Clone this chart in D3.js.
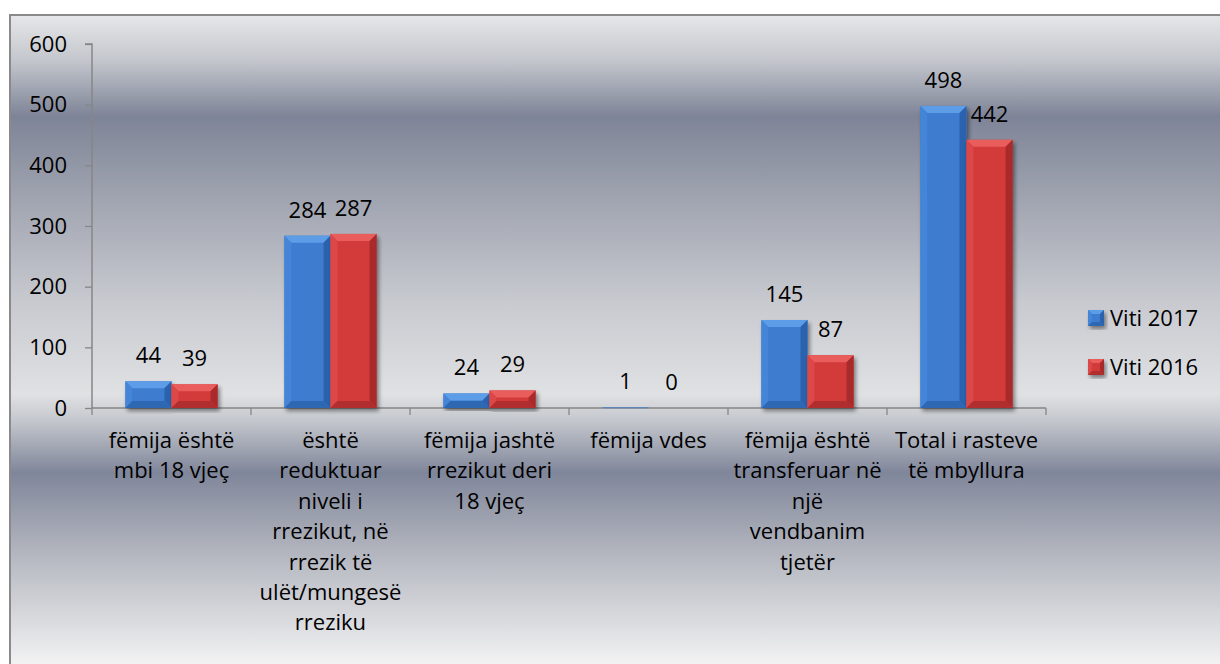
<!DOCTYPE html>
<html>
<head>
<meta charset="utf-8">
<script src="https://cdn.jsdelivr.net/npm/d3@7"></script>
<style>
  html, body { margin: 0; padding: 0; background: #ffffff; }
  svg { display: block; }
  text { font-family: "Open Sans", "Noto Sans", sans-serif; fill: #000; }
</style>
</head>
<body>
<svg id="chart" width="1220" height="664"></svg>
<script>
// ---- data ----
const categories = [
  "fëmija është\nmbi 18 vjeç",
  "është\nreduktuar\nniveli i\nrrezikut, në\nrrezik të\nulët/mungesë\nrreziku",
  "fëmija jashtë\nrrezikut deri\n18 vjeç",
  "fëmija vdes",
  "fëmija është\ntransferuar në\nnjë\nvendbanim\ntjetër",
  "Total i rasteve\ntë mbyllura"
];
const seriesNames = ["Viti 2017", "Viti 2016"];
const values2017 = [44, 284, 24, 1, 145, 498];
const values2016 = [39, 287, 29, 0, 87, 442];
const yTicks = [0, 100, 200, 300, 400, 500, 600];

// ---- styles ----
const seriesColors = [
  { body: "#3c7bcf", top: "#5d9de8", left: "#4585d8", right: "#2c62ae", bottom: "#2f67b3" },
  { body: "#d33a3a", top: "#ea5d5d", left: "#dc4646", right: "#a92a2a", bottom: "#b02e2e" }
];
const FS = "22px";

const svg = d3.select("#chart");
const W = 1220, H = 664;
const frame = { x: 10, y: 15 };

// background gradient
const defs = svg.append("defs");
const grad = defs.append("linearGradient")
  .attr("id", "bg").attr("x1", 0).attr("y1", 0).attr("x2", 0).attr("y2", 1);
const bgStops = [
  [0.00, "#e6e7e9"], [0.07, "#c3c6cc"], [0.155, "#7e8497"], [0.28, "#a0a4b0"],
  [0.44, "#c8cad0"], [0.58, "#e0e1e3"], [0.62, "#c4c7cd"], [0.70, "#80869a"],
  [0.82, "#b2b5be"], [1.00, "#f5f5f5"]
];
bgStops.forEach(([o, c]) => grad.append("stop").attr("offset", o).attr("stop-color", c));

const shadow = defs.append("filter").attr("id", "shadow")
  .attr("x", "-20%").attr("y", "-20%").attr("width", "140%").attr("height", "140%");
shadow.append("feGaussianBlur").attr("in", "SourceAlpha").attr("stdDeviation", 2).attr("result", "b");
shadow.append("feOffset").attr("in", "b").attr("dx", 2).attr("dy", 3).attr("result", "o");
shadow.append("feComponentTransfer").attr("in", "o").attr("result", "s")
  .append("feFuncA").attr("type", "linear").attr("slope", 0.45);
const merge = shadow.append("feMerge");
merge.append("feMergeNode").attr("in", "s");
merge.append("feMergeNode").attr("in", "SourceGraphic");

svg.append("rect").attr("x", frame.x).attr("y", frame.y)
  .attr("width", W - frame.x + 5).attr("height", H - frame.y + 5)
  .attr("fill", "url(#bg)").attr("stroke", "#8a8a8a").attr("stroke-width", 2);

// scales
const plot = { left: 92, right: 1046, top: 44, bottom: 408 };
const y = d3.scaleLinear().domain([0, 600]).range([plot.bottom, plot.top]);
const x0 = d3.scaleBand().domain(d3.range(categories.length))
  .range([plot.left, plot.right]).paddingInner(0.42).paddingOuter(0.21);
const x1 = d3.scaleBand().domain(d3.range(seriesNames.length))
  .range([0, x0.bandwidth()]).padding(0);

// axes
const axisColor = "#868686";
const yAxis = svg.append("g").attr("transform", `translate(${plot.left},0)`)
  .call(d3.axisLeft(y).tickValues(yTicks).tickSize(7).tickPadding(18).tickFormat(d3.format("d")));
yAxis.select(".domain").attr("stroke", axisColor).attr("stroke-width", 1.5).attr("d", `M-7,${y(600)}H0V${y(0)}`);
yAxis.selectAll(".tick line").attr("stroke", axisColor).attr("stroke-width", 1.3);
yAxis.selectAll(".tick text").style("font-size", FS).style("font-family", "'Open Sans', sans-serif").attr("fill", "#000");

const step = x0.step();
const boundaries = d3.range(categories.length + 1).map(i => plot.left + i * step);
const xAxis = svg.append("g");
xAxis.append("line").attr("x1", plot.left).attr("x2", plot.right)
  .attr("y1", plot.bottom).attr("y2", plot.bottom).attr("stroke", axisColor).attr("stroke-width", 1.5);
xAxis.selectAll("line.t").data(boundaries).enter().append("line").attr("class", "t")
  .attr("x1", d => d).attr("x2", d => d).attr("y1", plot.bottom).attr("y2", plot.bottom + 7)
  .attr("stroke", axisColor).attr("stroke-width", 1.3);

// category labels
const catG = svg.append("g");
categories.forEach((c, i) => {
  const cx = x0(i) + x0.bandwidth() / 2;
  const t = catG.append("text").attr("text-anchor", "middle").style("font-size", FS);
  c.split("\n").forEach((line, j) => {
    t.append("tspan").attr("x", cx).attr("y", 448 + j * 30.4).text(line);
  });
});

// bevel bar drawer
function bevelBar(g, x, yTop, w, h, col, bv) {
  const b = Math.max(0, Math.min(bv, h / 2, w / 2));
  const grp = g.append("g").attr("filter", "url(#shadow)");
  grp.append("rect").attr("x", x).attr("y", yTop).attr("width", w).attr("height", Math.max(h, 0.8)).attr("fill", col.body);
  if (b > 0.5) {
    const poly = pts => pts.map(p => p.join(",")).join(" ");
    grp.append("polygon").attr("points", poly([[x, yTop], [x + w, yTop], [x + w - b, yTop + b], [x + b, yTop + b]])).attr("fill", col.top);
    grp.append("polygon").attr("points", poly([[x, yTop], [x + b, yTop + b], [x + b, yTop + h - b], [x, yTop + h]])).attr("fill", col.left);
    grp.append("polygon").attr("points", poly([[x + w, yTop], [x + w, yTop + h], [x + w - b, yTop + h - b], [x + w - b, yTop + b]])).attr("fill", col.right);
    grp.append("polygon").attr("points", poly([[x, yTop + h], [x + b, yTop + h - b], [x + w - b, yTop + h - b], [x + w, yTop + h]])).attr("fill", col.bottom);
  }
}

const seriesValues = [values2017, values2016];
const barsG = svg.append("g");
const labelsG = svg.append("g");
categories.forEach((c, i) => {
  seriesValues.forEach((vals, s) => {
    const v = vals[i];
    const bx = x0(i) + x1(s);
    const bw = x1.bandwidth();
    const yt = y(v);
    const h = y(0) - yt;
    if (v > 0) bevelBar(barsG, bx, yt, bw, h, seriesColors[s], 7);
    labelsG.append("text").attr("x", bx + bw / 2).attr("y", yt - 18)
      .attr("text-anchor", "middle").style("font-size", FS).text(v);
  });
});

// legend
const legend = svg.append("g");
const legendY = [318, 367];
seriesNames.forEach((name, s) => {
  bevelBar(legend, 1088, legendY[s] - 8, 16, 16, seriesColors[s], 4);
  legend.append("text").attr("x", 1110).attr("y", legendY[s] + 8)
    .style("font-size", FS).text(name);
});
</script>
</body>
</html>
